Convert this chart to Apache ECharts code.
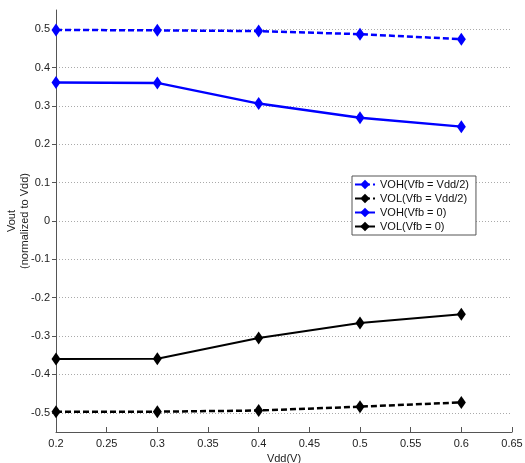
<!DOCTYPE html>
<html>
<head>
<meta charset="utf-8">
<script src="https://cdn.jsdelivr.net/npm/echarts@6/dist/echarts.min.js"></script>
<style>
  html, body { margin: 0; padding: 0; background: #fff; }
  #chart { width: 525px; height: 463px; }
</style>
</head>
<body>
<div id="chart"></div>
<script>
// Supply voltage sweep (V)
const vdd = [0.2, 0.3, 0.4, 0.5, 0.6];

// Output levels normalized to Vdd
const vohHalf = [0.498, 0.497, 0.495, 0.487, 0.474];
const volHalf = [-0.497, -0.497, -0.494, -0.484, -0.473];
const vohZero = [0.361, 0.360, 0.306, 0.269, 0.246];
const volZero = [-0.360, -0.359, -0.305, -0.266, -0.243];

const seriesNames = ['VOH(Vfb = Vdd/2)', 'VOL(Vfb = Vdd/2)', 'VOH(Vfb = 0)', 'VOL(Vfb = 0)'];

// Tick positions
const xTicks = [0.2, 0.25, 0.3, 0.35, 0.4, 0.45, 0.5, 0.55, 0.6, 0.65];
const yTicks = [-0.5, -0.4, -0.3, -0.2, -0.1, 0, 0.1, 0.2, 0.3, 0.4, 0.5];

const pair = arr => vdd.map((v, i) => [v, arr[i]]);

function lineSeries(name, values, color, dashed, width) {
  return {
    name: name,
    type: 'line',
    data: pair(values),
    symbol: 'diamond',
    symbolSize: [9, 13],
    showAllSymbol: true,
    itemStyle: { color: color },
    lineStyle: { color: color, width: width, type: dashed ? [6, 3] : 'solid' },
    emphasis: { disabled: true },
    z: 3
  };
}

const chart = echarts.init(document.getElementById('chart'), null, { renderer: 'canvas' });

chart.setOption({
  animation: false,
  backgroundColor: '#fff',
  textStyle: { fontFamily: 'Liberation Sans, Arial, sans-serif' },
  grid: { left: 56, right: 13, top: 10, bottom: 31, containLabel: false, outerBoundsMode: 'none' },
  legend: {
    data: seriesNames,
    orient: 'vertical',
    left: 352,
    top: 176,
    padding: [3, 7, 3, 2],
    itemGap: 3,
    itemWidth: 20,
    itemHeight: 12,
    backgroundColor: '#fff',
    borderColor: '#555',
    borderWidth: 1,
    borderRadius: 0,
    textStyle: { fontSize: 11, color: '#111', fontFamily: 'Liberation Sans, Arial, sans-serif' }
  },
  xAxis: {
    type: 'value',
    min: 0.2,
    max: 0.65,
    interval: 0.05,
    name: 'Vdd(V)',
    nameLocation: 'middle',
    nameGap: 21,
    nameMoveOverlap: false,
    nameTextStyle: { fontSize: 11, color: '#222' },
    axisLine: { show: true, onZero: false, lineStyle: { color: '#555', width: 1 } },
    axisTick: { show: true, inside: true, length: 5, lineStyle: { color: '#555' } },
    axisLabel: {
      fontSize: 11, color: '#222', margin: 6,
      formatter: v => String(+v.toFixed(2))
    },
    splitLine: { show: false }
  },
  yAxis: {
    type: 'value',
    min: -0.55,
    max: 0.55,
    name: 'Vout\n(normalized to Vdd)',
    nameLocation: 'middle',
    nameGap: 25,
    nameMoveOverlap: false,
    nameRotate: 90,
    nameTextStyle: { fontSize: 11, color: '#222', lineHeight: 13, align: 'center' },
    axisLine: { show: true, onZero: false, lineStyle: { color: '#555', width: 1 } },
    axisTick: { show: true, inside: false, length: 4, customValues: yTicks, lineStyle: { color: '#555' } },
    axisLabel: {
      fontSize: 11, color: '#222', margin: 6,
      customValues: yTicks,
      formatter: v => String(+v.toFixed(1))
    },
    splitLine: { show: true, lineStyle: { color: '#aaa', type: [1, 2], width: 1 } }
  },
  series: [
    lineSeries(seriesNames[0], vohHalf, '#0000ff', true, 2.5),
    lineSeries(seriesNames[1], volHalf, '#000000', true, 2.5),
    lineSeries(seriesNames[2], vohZero, '#0000ff', false, 2.5),
    lineSeries(seriesNames[3], volZero, '#000000', false, 2)
  ]
});
</script>
</body>
</html>
